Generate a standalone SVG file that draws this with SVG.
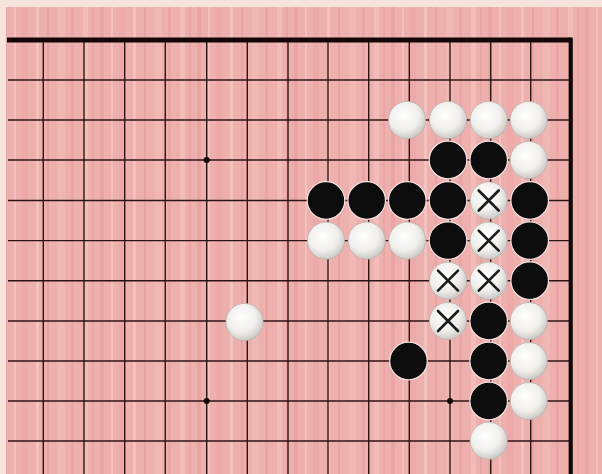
<svg xmlns="http://www.w3.org/2000/svg" width="602" height="474" viewBox="0 0 602 474">
<style>
.grid line{stroke:#2b1512;stroke-width:1.4}
.edge{stroke:#120606;fill:none}
.x{stroke:#1a1a1a;stroke-width:2.6;stroke-linecap:round}
</style>
<defs>
<pattern id="wood" width="97" height="474" patternUnits="userSpaceOnUse">
<rect x="3" y="0" width="4" height="474" fill="#e8949a" opacity="0.45"/>
<rect x="14" y="0" width="2" height="474" fill="#f8d0cc" opacity="0.5"/>
<rect x="22" y="0" width="6" height="474" fill="#e99aa0" opacity="0.35"/>
<rect x="36" y="0" width="3" height="474" fill="#f7d3cf" opacity="0.5"/>
<rect x="47" y="0" width="2" height="474" fill="#e48c92" opacity="0.4"/>
<rect x="58" y="0" width="7" height="474" fill="#f3c2c0" opacity="0.45"/>
<rect x="71" y="0" width="3" height="474" fill="#e5939a" opacity="0.4"/>
<rect x="83" y="0" width="5" height="474" fill="#f7d0cb" opacity="0.4"/>
<rect x="92" y="0" width="2" height="474" fill="#e58f96" opacity="0.35"/>
</pattern>
<radialGradient id="wg" cx="0.42" cy="0.38" r="0.65">
<stop offset="0" stop-color="#ffffff"/>
<stop offset="0.6" stop-color="#f1efec"/>
<stop offset="1" stop-color="#c9c6c2"/>
</radialGradient>
<g id="W"><circle r="18.6" fill="url(#wg)" stroke="#b8b2ae" stroke-width="0.8"/></g>
<g id="B"><circle r="18.8" fill="#0c0c0c" stroke="#f3e2e0" stroke-width="1.2"/></g>
<g id="X"><circle r="18.6" fill="url(#wg)" stroke="#b8b2ae" stroke-width="0.8"/><path class="x" d="M-10,-10L10,10M10,-10L-10,10"/></g>
</defs>
<rect width="602" height="474" fill="#f6e3dc"/>
<rect x="6" y="7" width="596" height="467" fill="#eeb0ad"/>
<rect x="6" y="7" width="596" height="467" fill="url(#wood)"/>
<g id="board" class="grid">
<line x1="8" y1="80" x2="570.7" y2="80"/>
<line x1="8" y1="120" x2="570.7" y2="120"/>
<line x1="8" y1="160" x2="570.7" y2="160"/>
<line x1="8" y1="200.5" x2="570.7" y2="200.5"/>
<line x1="8" y1="240.6" x2="570.7" y2="240.6"/>
<line x1="8" y1="280.7" x2="570.7" y2="280.7"/>
<line x1="8" y1="321" x2="570.7" y2="321"/>
<line x1="8" y1="361" x2="570.7" y2="361"/>
<line x1="8" y1="401" x2="570.7" y2="401"/>
<line x1="8" y1="441" x2="570.7" y2="441"/>
<line x1="43.3" y1="40" x2="43.3" y2="474"/>
<line x1="84" y1="40" x2="84" y2="474"/>
<line x1="124.7" y1="40" x2="124.7" y2="474"/>
<line x1="165.3" y1="40" x2="165.3" y2="474"/>
<line x1="206.7" y1="40" x2="206.7" y2="474"/>
<line x1="247.3" y1="40" x2="247.3" y2="474"/>
<line x1="288" y1="40" x2="288" y2="474"/>
<line x1="328" y1="40" x2="328" y2="474"/>
<line x1="368.7" y1="40" x2="368.7" y2="474"/>
<line x1="409.3" y1="40" x2="409.3" y2="474"/>
<line x1="450" y1="40" x2="450" y2="474"/>
<line x1="490.7" y1="40" x2="490.7" y2="474"/>
<line x1="530.7" y1="40" x2="530.7" y2="474"/>
<path class="edge" d="M7,40H570.7" stroke-width="5"/>
<path class="edge" d="M570.7,37.5V474" stroke-width="4.2"/>
<circle cx="206.7" cy="160" r="3" fill="#120606"/>
<circle cx="206.7" cy="401" r="3" fill="#120606"/>
<circle cx="450" cy="160" r="3" fill="#120606"/>
<circle cx="450" cy="401" r="3" fill="#120606"/>
</g>
<g id="stones">
<use id="w-k2" href="#W" x="407" y="120"/>
<use id="w-l2" href="#W" x="448" y="120"/>
<use id="w-m2" href="#W" x="488.7" y="120"/>
<use id="w-n2" href="#W" x="528.7" y="120"/>
<use id="b-l3" href="#B" x="448" y="160"/>
<use id="b-m3" href="#B" x="488.7" y="160"/>
<use id="w-n3" href="#W" x="528.7" y="160"/>
<use id="b-h4" href="#B" x="326" y="200.5"/>
<use id="b-i4" href="#B" x="366.7" y="200.5"/>
<use id="b-j4" href="#B" x="407.3" y="200.5"/>
<use id="b-k4" href="#B" x="448" y="200.5"/>
<use id="x-m4" href="#X" x="488.7" y="200.5"/>
<use id="b-n4" href="#B" x="529.7" y="200.5"/>
<use id="w-h5" href="#W" x="326" y="240.6"/>
<use id="w-i5" href="#W" x="366.7" y="240.6"/>
<use id="w-j5" href="#W" x="407.3" y="240.6"/>
<use id="b-k5" href="#B" x="448" y="240.6"/>
<use id="x-m5" href="#X" x="488.7" y="240.6"/>
<use id="b-n5" href="#B" x="529.7" y="240.6"/>
<use id="x-l6" href="#X" x="448" y="280.7"/>
<use id="x-m6" href="#X" x="488.7" y="280.7"/>
<use id="b-n6" href="#B" x="529.7" y="280.7"/>
<use id="w-f7" href="#W" x="244.5" y="322"/>
<use id="x-l7" href="#X" x="448" y="321"/>
<use id="b-m7" href="#B" x="488.7" y="321"/>
<use id="w-n7" href="#W" x="528.7" y="321"/>
<use id="b-j8" href="#B" x="408.5" y="361"/>
<use id="b-m8" href="#B" x="488.7" y="361"/>
<use id="w-n8" href="#W" x="528.7" y="361"/>
<use id="b-m9" href="#B" x="488.7" y="401"/>
<use id="w-n9" href="#W" x="528.7" y="401"/>
<use id="w-m10" href="#W" x="488.7" y="440.7"/>
</g>
</svg>
